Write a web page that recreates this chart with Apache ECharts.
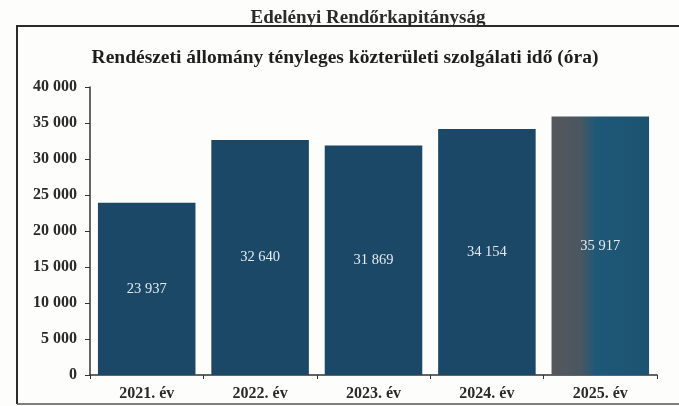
<!DOCTYPE html>
<html>
<head>
<meta charset="utf-8">
<script src="https://cdn.jsdelivr.net/npm/echarts@6/dist/echarts.min.js"></script>
<style>
	html, body { margin: 0; padding: 0; background: #fdfdfb; }
	#chart { width: 679px; height: 406px; }
</style>
</head>
<body>
<div id="chart"></div>
<script>
var categories = ['2021. év', '2022. év', '2023. év', '2024. év', '2025. év'];
var hours = [23937, 32640, 31869, 34154, 35917];
var pageTitle = 'Edelényi Rendőrkapitányság';
var chartTitle = 'Rendészeti állomány tényleges közterületi szolgálati idő (óra)';

var serif = '"Liberation Serif", "DejaVu Serif", serif';
var barColor = '#1c4868';

function fmt(v) {
	return String(v).replace(/\B(?=(\d{3})+(?!\d))/g, ' ');
}

var chart = echarts.init(document.getElementById('chart'));

var barData = hours.map(function (v, i) {
	if (i === hours.length - 1) {
		return {
			value: v,
			itemStyle: {
				color: new echarts.graphic.LinearGradient(0, 0, 1, 0, [
					{ offset: 0, color: '#55585d' },
					{ offset: 0.3, color: '#4a5660' },
					{ offset: 0.45, color: '#1f5877' },
					{ offset: 1, color: '#1c5371' }
				])
			}
		};
	}
	return v;
});

chart.setOption({
	backgroundColor: '#fdfdfb',
	animation: false,
	title: [{
		text: pageTitle,
		left: 363,
		top: 4,
		textAlign: 'center',
		textStyle: { fontFamily: serif, fontWeight: 'bold', fontSize: 19, color: '#2a2a2a' }
	}, {
		text: chartTitle,
		left: 340,
		top: 43,
		textAlign: 'center',
		textStyle: { fontFamily: serif, fontWeight: 'bold', fontSize: 19.5, color: '#1e1e1e' }
	}],
	graphic: [{
		type: 'polyline',
		shape: { points: [[17, 404], [17, 26], [679, 26]] },
		style: { stroke: '#2b2b2b', lineWidth: 2, fill: null }
	}, {
		type: 'line',
		shape: { x1: 17, y1: 404, x2: 679, y2: 404 },
		style: { stroke: '#555', lineWidth: 1.5 }
	}],
	grid: { left: 90, right: 22, top: 87, bottom: 31 },
	xAxis: {
		type: 'category',
		data: categories,
		axisLine: { lineStyle: { color: '#333', width: 1.5 } },
		axisTick: { show: true, length: 4, lineStyle: { color: '#333' } },
		axisLabel: {
			margin: 11,
			fontFamily: serif, fontWeight: 'bold', fontSize: 16, color: '#2a2a2a'
		}
	},
	yAxis: {
		type: 'value',
		min: 0,
		max: 40000,
		interval: 5000,
		axisLine: { show: true, lineStyle: { color: '#333', width: 1.5 } },
		axisTick: { show: true, length: 5, lineStyle: { color: '#333' } },
		splitLine: { show: false },
		axisLabel: {
			margin: 13,
			fontFamily: serif, fontWeight: 'bold', fontSize: 16, color: '#2a2a2a',
			formatter: fmt
		}
	},
	series: [{
		type: 'bar',
		data: barData,
		barCategoryGap: '14%',
		itemStyle: { color: barColor },
		label: {
			show: true,
			position: 'inside',
			fontFamily: serif,
			fontSize: 14.5,
			color: '#e4ebf0',
			formatter: function (p) { return fmt(p.value); }
		}
	}]
});
</script>
</body>
</html>
